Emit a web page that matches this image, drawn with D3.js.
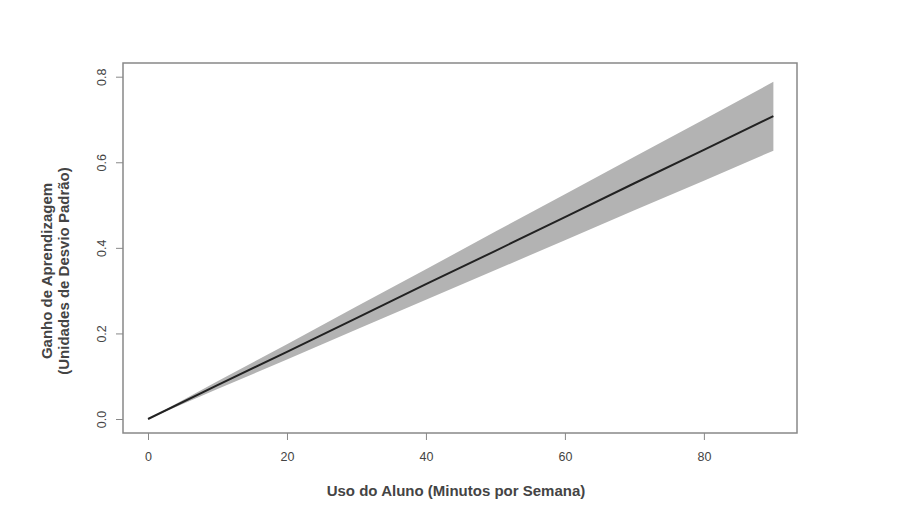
<!DOCTYPE html>
<html lang="pt">
<head>
    <meta charset="UTF-8">
    <title>Ganho de Aprendizagem</title>
    <script src="https://d3js.org/d3.v7.min.js"></script>
    <style>
        body { margin: 0; background: #fff; }
        text { font-family: "Liberation Sans", Arial, sans-serif; fill: #444; }
        .axis path, .axis line { stroke: #888; }
    </style>
</head>
<body>
    <script>
        // Data
        const minutos   = [0, 10, 20, 30, 40, 50, 60, 70, 80, 90];
        const ganho     = [0, 0.079, 0.157, 0.236, 0.315, 0.393, 0.472, 0.551, 0.629, 0.708];
        const superior  = [0, 0.088, 0.175, 0.263, 0.350, 0.438, 0.525, 0.613, 0.700, 0.788];
        const inferior  = [0, 0.070, 0.139, 0.209, 0.279, 0.348, 0.418, 0.488, 0.557, 0.627];
        const xTicks = [0, 20, 40, 60, 80];
        const yTicks = [0, 0.2, 0.4, 0.6, 0.8];

        const width = 910, height = 512;
        const box = {left: 123, right: 797, top: 63, bottom: 433};

        const svg = d3.select("body").append("svg")
            .attr("width", width)
            .attr("height", height);

        // scales: 0 -> 148.3px, 90 -> 773.8px ; 0 -> 419px, 0.8 -> 76.6px
        const x = d3.scaleLinear().domain([-3.6, 93.4]).range([box.left, box.right]);
        const y = d3.scaleLinear().domain([-0.0327, 0.832]).range([box.bottom, box.top]);

        const rows = minutos.map((m, i) => ({m, g: ganho[i], hi: superior[i], lo: inferior[i]}));

        // confidence band
        svg.append("path")
            .datum(rows)
            .attr("fill", "#b3b3b3")
            .attr("d", d3.area().x(d => x(d.m)).y0(d => y(d.lo)).y1(d => y(d.hi)));

        // fitted line
        svg.append("path")
            .datum(rows)
            .attr("fill", "none")
            .attr("stroke", "#222")
            .attr("stroke-width", 2)
            .attr("d", d3.line().x(d => x(d.m)).y(d => y(d.g)));

        // plot box
        svg.append("rect")
            .attr("x", box.left).attr("y", box.top)
            .attr("width", box.right - box.left)
            .attr("height", box.bottom - box.top)
            .attr("fill", "none")
            .attr("stroke", "#888")
            .attr("stroke-width", 1.5);

        // x axis (R style: no axis line, ticks only)
        const xAxis = svg.append("g")
            .attr("class", "axis")
            .attr("transform", `translate(0,${box.bottom})`)
            .call(d3.axisBottom(x).tickValues(xTicks).tickFormat(d3.format("d")).tickSize(7).tickPadding(12).tickSizeOuter(0));
        xAxis.select(".domain").remove();
        xAxis.selectAll("text").style("font-size", "12.5px");

        const yAxis = svg.append("g")
            .attr("class", "axis")
            .attr("transform", `translate(${box.left},0)`)
            .call(d3.axisLeft(y).tickValues(yTicks).tickFormat(d3.format(".1f")).tickSize(7));
        yAxis.select(".domain").remove();
        yAxis.selectAll("text")
            .style("font-size", "12.5px")
            .attr("text-anchor", "middle")
            .attr("x", 0).attr("dy", 0)
            .attr("transform", "translate(-20,0) rotate(-90)")
            .attr("dominant-baseline", "middle");

        // titles
        svg.append("text")
            .attr("x", 456).attr("y", 496)
            .attr("text-anchor", "middle")
            .style("font-size", "15px")
            .style("font-weight", "bold")
            .text("Uso do Aluno (Minutos por Semana)");

        const yt = svg.append("text")
            .attr("transform", "translate(52,271) rotate(-90)")
            .attr("text-anchor", "middle")
            .style("font-size", "15px")
            .style("font-weight", "bold");
        yt.append("tspan").attr("x", 0).attr("y", 0).text("Ganho de Aprendizagem");
        yt.append("tspan").attr("x", 0).attr("y", 17).text("(Unidades de Desvio Padrão)");
    </script>
</body>
</html>
